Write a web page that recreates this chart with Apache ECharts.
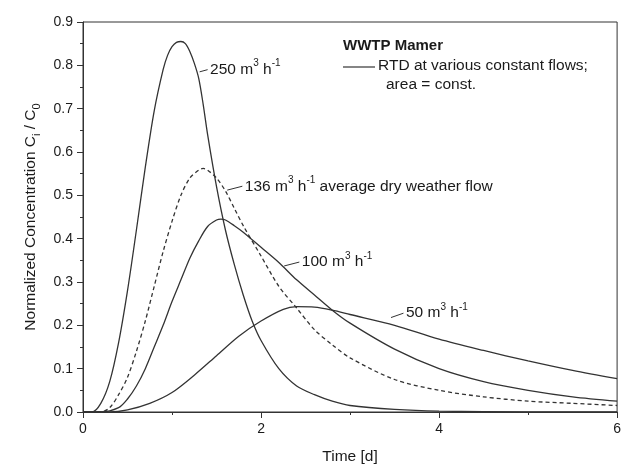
<!DOCTYPE html>
<html>
<head>
<meta charset="utf-8">
<script src="https://cdn.jsdelivr.net/npm/echarts@6/dist/echarts.min.js"></script>
<style>
  html, body { margin: 0; padding: 0; background: #fff; }
  #main { width: 624px; height: 470px; }
</style>
</head>
<body>
<div id="main"></div>
<script>
// RTD curves (time in days, normalized concentration)
var t250 = [0, 0.1, 0.2, 0.3, 0.4, 0.5, 0.6, 0.7, 0.8, 0.9, 0.95, 1.0, 1.05, 1.1, 1.15, 1.2, 1.25, 1.3, 1.35, 1.4, 1.5, 1.6, 1.7, 1.8, 1.9, 2.0, 2.2, 2.4, 2.6, 2.8, 3.0, 3.5, 4.0, 5.0, 6.0];
var c250 = [0, 0.0, 0.02, 0.07, 0.16, 0.28, 0.42, 0.565, 0.695, 0.79, 0.823, 0.843, 0.853, 0.855, 0.85, 0.832, 0.805, 0.77, 0.71, 0.64, 0.52, 0.42, 0.34, 0.27, 0.21, 0.165, 0.1, 0.06, 0.04, 0.025, 0.015, 0.006, 0.002, 0, 0];

var t136 = [0, 0.2, 0.3, 0.4, 0.5, 0.6, 0.7, 0.8, 0.9, 1.0, 1.1, 1.2, 1.3, 1.35, 1.4, 1.5, 1.6, 1.7, 1.8, 2.0, 2.2, 2.4, 2.6, 2.8, 3.0, 3.5, 4.0, 4.5, 5.0, 5.5, 6.0];
var c136 = [0, 0.0, 0.01, 0.04, 0.08, 0.14, 0.21, 0.29, 0.37, 0.44, 0.5, 0.54, 0.558, 0.562, 0.558, 0.54, 0.51, 0.47, 0.43, 0.36, 0.29, 0.24, 0.19, 0.155, 0.125, 0.075, 0.05, 0.035, 0.025, 0.02, 0.015];

var t100 = [0, 0.2, 0.4, 0.5, 0.6, 0.7, 0.8, 0.9, 1.0, 1.1, 1.2, 1.3, 1.4, 1.5, 1.55, 1.6, 1.7, 1.8, 2.0, 2.2, 2.4, 2.6, 2.8, 3.0, 3.5, 4.0, 4.5, 5.0, 5.5, 6.0];
var c100 = [0, 0.0, 0.01, 0.03, 0.06, 0.1, 0.15, 0.2, 0.255, 0.305, 0.355, 0.395, 0.428, 0.443, 0.445, 0.443, 0.43, 0.415, 0.38, 0.345, 0.305, 0.27, 0.235, 0.205, 0.145, 0.1, 0.07, 0.05, 0.035, 0.025];

var t50 = [0, 0.3, 0.5, 0.75, 1.0, 1.25, 1.5, 1.75, 2.0, 2.25, 2.4, 2.6, 2.8, 3.0, 3.5, 4.0, 4.5, 5.0, 5.5, 6.0];
var c50 = [0, 0.0, 0.005, 0.02, 0.045, 0.085, 0.13, 0.175, 0.21, 0.237, 0.243, 0.242, 0.235, 0.225, 0.2, 0.168, 0.142, 0.118, 0.096, 0.077];

// curve annotations: text, leader line start and end (data coords)
var annText = ['250 m{sup|3} h{sup|-1}', '136 m{sup|3} h{sup|-1} average dry weather flow', '100 m{sup|3} h{sup|-1}', '50 m{sup|3} h{sup|-1}'];
var annFrom = [[1.31, 0.785], [1.62, 0.512], [2.26, 0.337], [3.46, 0.218]];
var annTo = [[1.40, 0.79], [1.79, 0.521], [2.43, 0.346], [3.6, 0.228]];

var xTicks = [0, 2, 4, 6];

function zip(t, c) {
  return t.map(function (v, i) { return [v, c[i]]; });
}

var ink = '#333';
var txt = '#1a1a1a';
var font = 'Liberation Sans';

function curve(name, t, c, k, dashed) {
  return {
    name: name,
    type: 'line',
    data: zip(t, c),
    smooth: 0.3,
    showSymbol: false,
    silent: true,
    lineStyle: { color: ink, width: 1.3, type: dashed ? [4, 3] : 'solid' },
    markLine: {
      silent: true,
      symbol: ['none', 'none'],
      label: { show: false },
      lineStyle: { color: ink, width: 1, type: 'solid' },
      data: [[{ coord: annFrom[k] }, { coord: annTo[k] }]]
    },
    markPoint: {
      silent: true,
      symbol: 'circle',
      symbolSize: 1,
      itemStyle: { color: 'transparent' },
      label: {
        show: true,
        position: 'right',
        distance: 2,
        color: txt,
        fontFamily: font,
        fontSize: 15.5,
        lineHeight: 22,
        formatter: annText[k],
        rich: { sup: { fontSize: 10, lineHeight: 10, verticalAlign: 'top', fontFamily: font, color: txt } }
      },
      data: [{ coord: annTo[k] }]
    }
  };
}

var myChart = echarts.init(document.getElementById('main'));
option = {
  animation: false,
  backgroundColor: '#fff',
  grid: { left: 83, right: 5, top: 22, bottom: 52, show: true, borderColor: ink, borderWidth: 1 },
  xAxis: {
    type: 'value',
    min: 0, max: 6, interval: 2,
    name: 'Time [d]',
    nameLocation: 'middle',
    nameGap: 37,
    nameTextStyle: { fontFamily: font, fontSize: 15.5, color: txt },
    axisLine: { lineStyle: { color: ink } },
    axisTick: { show: true, length: 6, lineStyle: { color: ink } },
    minorTick: { show: true, splitNumber: 2, length: 3, lineStyle: { color: ink } },
    splitLine: { show: false },
    axisLabel: {
      margin: 10, fontFamily: font, fontSize: 14, color: txt,
      formatter: function (v) { return xTicks.indexOf(v) >= 0 ? String(v) : ''; }
    }
  },
  yAxis: {
    type: 'value',
    min: 0, max: 0.9, interval: 0.1,
    name: 'Normalized Concentration C{sub|i} / C{sub|0}',
    nameLocation: 'middle',
    nameGap: 36,
    nameTextStyle: {
      fontFamily: font, fontSize: 15.5, color: txt, lineHeight: 24,
      rich: { sub: { fontSize: 11, lineHeight: 11, verticalAlign: 'bottom', fontFamily: font, color: txt } }
    },
    axisLine: { show: true, lineStyle: { color: ink } },
    axisTick: { show: true, length: 6, lineStyle: { color: ink } },
    minorTick: { show: true, splitNumber: 2, length: 3, lineStyle: { color: ink } },
    splitLine: { show: false },
    axisLabel: {
      margin: 10, fontFamily: font, fontSize: 14, color: txt,
      formatter: function (v) { return v.toFixed(1); }
    }
  },
  graphic: [
    { type: 'text', left: 343, top: 38, style: { text: 'WWTP Mamer', font: 'bold 15px "Liberation Sans"', fill: txt } },
    { type: 'line', shape: { x1: 343, y1: 67, x2: 375, y2: 67 }, style: { stroke: ink, lineWidth: 1.2 } },
    { type: 'text', left: 378, top: 58, style: { text: 'RTD at various constant flows;', font: '15.5px "Liberation Sans"', fill: txt } },
    { type: 'text', left: 386, top: 77, style: { text: 'area = const.', font: '15.5px "Liberation Sans"', fill: txt } }
  ],
  series: [
    curve('250', t250, c250, 0, false),
    curve('136', t136, c136, 1, true),
    curve('100', t100, c100, 2, false),
    curve('50', t50, c50, 3, false)
  ]
};
myChart.setOption(option, true);
</script>
</body>
</html>
